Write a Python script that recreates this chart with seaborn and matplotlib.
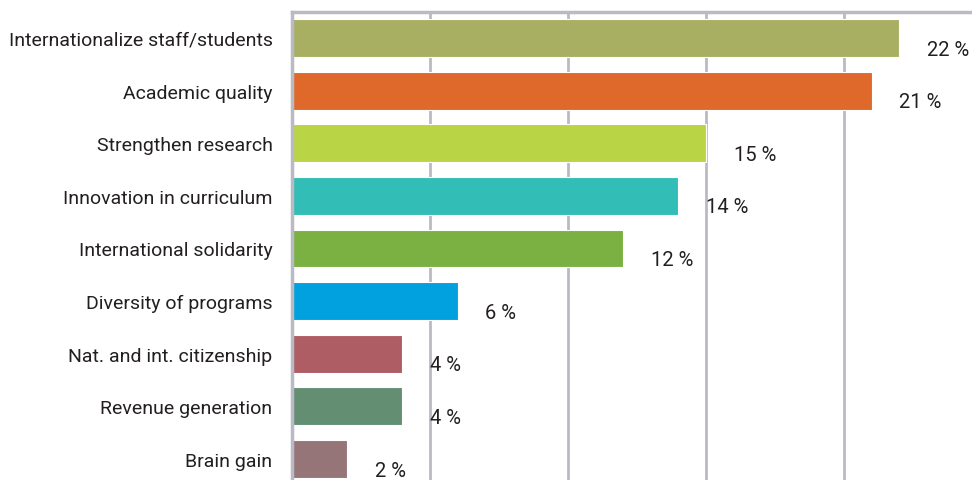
import matplotlib
matplotlib.use("Agg")
import matplotlib.pyplot as plt
import seaborn as sns

# Reasons for internationalisation, share of responses (%)
categories = [
    "Internationalize staff/students",
    "Academic quality",
    "Strengthen research",
    "Innovation in curriculum",
    "International solidarity",
    "Diversity of programs",
    "Nat. and int. citizenship",
    "Revenue generation",
    "Brain gain",
]
values = [22, 21, 15, 14, 12, 6, 4, 4, 2]
value_labels = ["22 %", "21 %", "15 %", "14 %", "12 %", "6 %", "4 %", "4 %", "2 %"]
colors = [
    "#A8AF63", "#DF692A", "#B9D445", "#32BEB6", "#7BB042",
    "#00A1DE", "#AE5D64", "#638E72", "#967579",
]

sns.set_theme(style="white")
plt.rcParams["font.family"] = ["Roboto", "DejaVu Sans"]

text_color = "#231F20"
grid_color = "#B9BAC3"

fig = plt.figure(figsize=(9.72, 4.81), dpi=100)
ax = fig.add_axes([292 / 972, 0.0, 1 - 292 / 972, 1 - 13 / 481])

sns.barplot(
    x=values, y=categories, hue=categories, palette=colors,
    orient="h", width=0.72, legend=False, ax=ax,
    edgecolor="#FFFFFF", linewidth=0.8, saturation=1,
)

ax.set_xlim(0, 680 / 27.6)
ax.set_ylim(8.40, -0.494)

# vertical grid every 5 points
ax.set_xticks([5, 10, 15, 20])
ax.xaxis.grid(True, color=grid_color, linewidth=2)
ax.set_axisbelow(True)
ax.tick_params(axis="x", length=0, labelbottom=False)
ax.tick_params(axis="y", length=0, pad=14, labelsize=14, labelcolor=text_color)

for side in ["right", "bottom"]:
    ax.spines[side].set_visible(False)
for side in ["left", "top"]:
    ax.spines[side].set_color(grid_color)
    ax.spines[side].set_linewidth(2.5)

ax.set_xlabel("")
ax.set_ylabel("")

for i, (v, lab) in enumerate(zip(values, value_labels)):
    ax.text(v + 1.0, i + 0.21, lab, ha="left", va="center",
            fontsize=14.5, color=text_color)

fig.savefig("out.png", dpi=100)
